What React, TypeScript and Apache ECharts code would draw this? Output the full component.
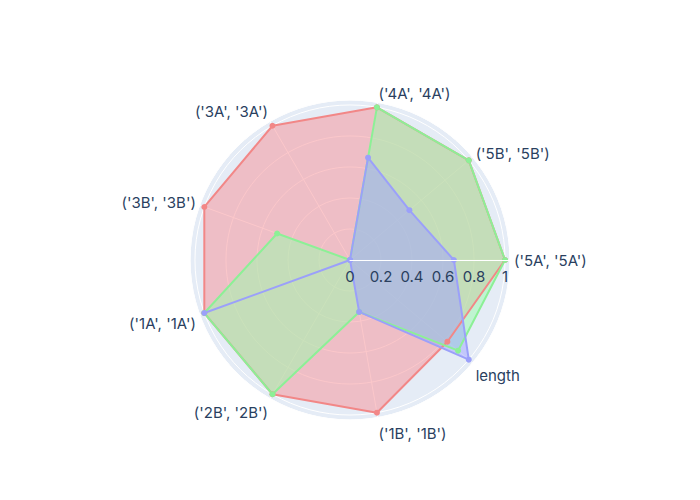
import React, { useEffect, useRef } from 'react';
import * as echarts from 'echarts';

const categories = [
  "('5A', '5A')",
  "('5B', '5B')",
  "('4A', '4A')",
  "('3A', '3A')",
  "('3B', '3B')",
  "('1A', '1A')",
  "('2B', '2B')",
  "('1B', '1B')",
  'length',
];
const redValues = [1, 1, 1, 1, 1, 1, 1, 1, 0.82];
const greenValues = [1, 1, 1, 0, 0.5, 1, 1, 0.34, 0.91];
const blueValues = [0.67, 0.5, 0.67, 0, 0, 1, 0, 0.34, 1];
const radialTicks = [0, 0.2, 0.4, 0.6, 0.8, 1];
const radialTickLabels = ['0', '0.2', '0.4', '0.6', '0.8', '1'];
const radialMax = 1.032;

// per-label styling to mimic plotly's tick label placement
const labelTune = [
  { lh: 15, left: false },
  { lh: 3, left: false },
  { lh: 9, left: true },
  { lh: 12, left: false },
  { lh: 3, left: false },
  { lh: 14, left: false },
  { lh: 20, left: false },
  { lh: 23, left: true },
  { lh: 21, left: false },
];

export default function App() {
  const ref = useRef<HTMLDivElement>(null);
  useEffect(() => {
    const chart = echarts.init(ref.current!, null, { renderer: 'svg' });
    const font = 'Inter';
    const fontSize = 15;
    const textColor = '#2a3f5f';
    const ctx = document.createElement('canvas').getContext('2d')!;
    ctx.font = `${fontSize}px ${font}`;
    const tw = (s: string) => ctx.measureText(s).width;
    const step = 360 / categories.length;

    const rich: any = {};
    categories.forEach((c, i) => {
      const t = labelTune[i];
      rich['c' + i] = {
        fontFamily: font,
        fontSize,
        color: textColor,
        lineHeight: t.lh,
        padding: t.left ? [0, 0, 0, tw(c)] : 0,
      };
    });

    const mk = (vals: number[], line: string, fill: string) => ({
      type: 'line',
      coordinateSystem: 'polar',
      polarIndex: 0,
      data: [
        ...vals.map((v, i) => [v, i * step]),
        { value: [vals[0], 360], symbolSize: 0 },
      ],
      symbol: 'circle',
      symbolSize: 6,
      lineStyle: { color: line, width: 2, opacity: 1 },
      itemStyle: { color: line, borderWidth: 0, opacity: 1 },
      areaStyle: { color: fill, opacity: 1 },
      emphasis: { disabled: true },
      silent: true,
      z: 5,
    });

    const polarBox = { center: [350, 260], radius: 160 };
    const baseAngle = {
      type: 'value',
      min: 0,
      max: 360,
      interval: step,
      startAngle: 0,
      clockwise: false,
    };
    const baseRadius = {
      type: 'value',
      min: 0,
      max: radialMax,
      interval: 0.2,
    };

    chart.setOption({
      animation: false,
      polar: [polarBox, polarBox, polarBox],
      angleAxis: [
        {
          ...baseAngle,
          polarIndex: 0,
          z: 0,
          axisLine: { show: false },
          axisTick: { show: false },
          axisLabel: { show: false },
          splitLine: { show: false },
          splitArea: { show: true, areaStyle: { color: ['#E5ECF6'] } },
        },
        {
          ...baseAngle,
          polarIndex: 1,
          z: 1,
          axisLine: { show: true, lineStyle: { color: '#ffffff', width: 1 } },
          axisTick: { show: false },
          axisLabel: {
            show: true,
            margin: 4,
            color: textColor,
            fontFamily: font,
            fontSize,
            rich,
            formatter: (v: number) => {
              const i = Math.round(v / step);
              if (i >= categories.length) return '';
              return `{c${i}|${categories[i]}}`;
            },
          },
          splitLine: { show: true, lineStyle: { color: '#ffffff', width: 1 } },
          splitArea: { show: false },
        },
        { ...baseAngle, polarIndex: 2, show: false },
      ],
      radiusAxis: [
        {
          ...baseRadius,
          polarIndex: 0,
          z: 0,
          axisLine: { show: false },
          axisTick: { show: false },
          axisLabel: { show: false },
          splitLine: { show: false },
        },
        {
          ...baseRadius,
          polarIndex: 1,
          z: 1,
          axisLine: { show: false },
          axisTick: { show: false },
          axisLabel: { show: false },
          splitLine: { show: true, lineStyle: { color: '#ffffff', width: 1 } },
        },
        {
          ...baseRadius,
          polarIndex: 2,
          z: 10,
          axisLine: { show: true, lineStyle: { color: '#ffffff', width: 1 } },
          axisTick: { show: false },
          splitLine: { show: false },
          axisLabel: {
            margin: -16,
            verticalAlign: 'middle',
            color: textColor,
            fontFamily: font,
            fontSize,
            formatter: (v: number) => {
              const k = radialTicks.findIndex((t) => Math.abs(t - v) < 1e-6);
              return k >= 0 ? radialTickLabels[k] : '';
            },
          },
        },
      ],
      series: [
        mk(redValues, 'rgb(242,135,135)', 'rgba(247,144,150,0.5)'),
        mk(greenValues, 'rgb(140,240,150)', 'rgba(154,252,172,0.5)'),
        mk(blueValues, 'rgb(155,160,250)', 'rgba(160,162,255,0.5)'),
      ],
    });
    return () => chart.dispose();
  }, []);
  return (
    <div
      ref={ref}
      style={{ position: 'absolute', left: 0, top: 0, width: 700, height: 500 }}
    />
  );
}
